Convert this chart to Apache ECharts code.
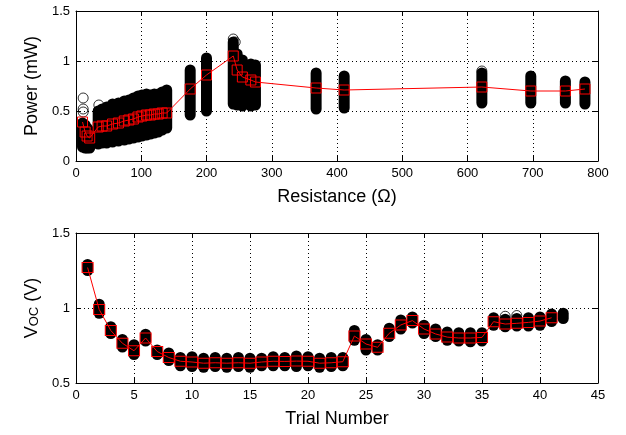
<!DOCTYPE html>
<html>
<head>
<meta charset="utf-8">
<script src="https://cdn.jsdelivr.net/npm/echarts@6/dist/echarts.min.js"></script>
<style>
  html, body { margin: 0; padding: 0; background: #fff; }
  #chart { width: 626px; height: 435px; }
</style>
</head>
<body>
<div id="chart"></div>
<script>
// top panel: power vs load resistance
var powerR = [10, 14, 17, 21, 34, 40, 47, 56, 65, 74, 81, 88, 95, 101, 108, 114, 120, 126, 132, 139,
  175, 200, 241, 247, 255, 268, 275, 368, 411, 622, 697, 750, 780];
var powerMean = [0.39, 0.29, 0.25, 0.23, 0.34, 0.35, 0.35, 0.37, 0.38, 0.40, 0.41, 0.42, 0.44, 0.45, 0.46, 0.46, 0.47, 0.47, 0.48, 0.48,
  0.72, 0.86, 1.05, 0.91, 0.84, 0.81, 0.79, 0.73, 0.71, 0.74, 0.70, 0.70, 0.72];
var powerLow = [0.14, 0.13, 0.13, 0.13, 0.17, 0.18, 0.18, 0.19, 0.20, 0.21, 0.22, 0.23, 0.24, 0.25, 0.26, 0.27, 0.28, 0.29, 0.31, 0.33,
  0.46, 0.50, 0.57, 0.56, 0.55, 0.55, 0.56, 0.52, 0.53, 0.58, 0.58, 0.58, 0.57];
var powerHigh = [0.38, 0.36, 0.33, 0.30, 0.50, 0.52, 0.54, 0.57, 0.58, 0.60, 0.61, 0.63, 0.65, 0.66, 0.67, 0.66, 0.67, 0.67, 0.69, 0.71,
  0.91, 1.03, 1.19, 1.07, 1.01, 0.97, 0.96, 0.88, 0.85, 0.88, 0.85, 0.80, 0.79];
var powerOutliers = [[11, 0.63], [11, 0.52], [11, 0.49], [35, 0.56], [241, 1.22], [244, 1.19], [622, 0.90]];

// bottom panel: open circuit voltage per trial
var trials = [1, 2, 3, 4, 5, 6, 7, 8, 9, 10, 11, 12, 13, 14, 15, 16, 17, 18, 19, 20, 21,
  22, 23, 24, 25, 26, 27, 28, 29, 30, 31, 32, 33, 34, 35, 36, 37, 38, 39, 40, 41, 42];
var vocMean = [1.27, 0.99, 0.85, 0.765, 0.715, 0.80, 0.71, 0.67, 0.645, 0.64, 0.632, 0.635, 0.632, 0.635, 0.632, 0.64, 0.645, 0.644, 0.646, 0.645, 0.632,
  0.635, 0.642, 0.813, 0.76, 0.738, 0.831, 0.887, 0.916, 0.86, 0.827, 0.806, 0.80, 0.80, 0.804, 0.909, 0.893, 0.898, 0.904, 0.913, 0.935, null];
var vocLow = [1.25, 0.965, 0.83, 0.74, 0.69, 0.78, 0.69, 0.65, 0.615, 0.61, 0.605, 0.61, 0.605, 0.61, 0.605, 0.615, 0.615, 0.615, 0.61, 0.615, 0.605,
  0.61, 0.615, 0.785, 0.72, 0.72, 0.81, 0.86, 0.90, 0.83, 0.81, 0.785, 0.78, 0.775, 0.78, 0.885, 0.875, 0.88, 0.88, 0.885, 0.91, 0.93];
var vocHigh = [1.29, 1.025, 0.875, 0.79, 0.755, 0.825, 0.72, 0.70, 0.67, 0.675, 0.665, 0.67, 0.665, 0.67, 0.665, 0.665, 0.675, 0.67, 0.68, 0.675, 0.665,
  0.67, 0.67, 0.85, 0.79, 0.755, 0.865, 0.92, 0.94, 0.885, 0.86, 0.84, 0.835, 0.835, 0.835, 0.935, 0.925, 0.93, 0.935, 0.94, 0.96, 0.965];
var vocOutliers = [[37, 0.945], [38, 0.95]];

var font = 'Arial, "Liberation Sans", sans-serif';

function zip3(x, lo, hi) {
  var res = [];
  for (var i = 0; i < x.length; i++) res.push([x[i], lo[i], hi[i]]);
  return res;
}
function zip2(x, y) {
  var res = [];
  for (var i = 0; i < x.length; i++) if (y[i] != null) res.push([x[i], y[i]]);
  return res;
}

// one cluster of overlapping circles -> a round capped stroke from low to high
function renderCluster(params, api) {
  var a = api.coord([api.value(0), api.value(1)]);
  var b = api.coord([api.value(0), api.value(2)]);
  return {
    type: 'line',
    shape: { x1: a[0], y1: a[1], x2: b[0], y2: b[1] },
    style: { stroke: '#000', lineWidth: 11, lineCap: 'round' }
  };
}

function xAxis(gridIndex, pos, min, max, step, name, gap) {
  return {
    type: 'value', gridIndex: gridIndex, position: pos, min: min, max: max, interval: step,
    name: name, nameLocation: 'middle', nameGap: gap,
    nameTextStyle: { color: '#000', fontSize: 18, fontFamily: font },
    axisLine: { show: true, onZero: false, lineStyle: { color: '#000', width: 1 } },
    axisTick: { show: true, inside: true, length: 5, lineStyle: { color: '#000' } },
    axisLabel: { show: pos === 'bottom', color: '#000', fontSize: 13, fontFamily: font, margin: 6 },
    splitLine: { show: pos === 'bottom', lineStyle: { color: '#000', type: [1, 3], width: 1 } }
  };
}
function yAxis(gridIndex, pos, min, max, step, name, gap) {
  return {
    type: 'value', gridIndex: gridIndex, position: pos, min: min, max: max, interval: step,
    name: name, nameLocation: 'middle', nameGap: gap,
    nameTextStyle: {
      color: '#000', fontSize: 18, fontFamily: font,
      rich: { sub: { fontSize: 13, fontFamily: font, color: '#000', verticalAlign: 'bottom' },
              n: { fontSize: 18, fontFamily: font, color: '#000' } }
    },
    axisLine: { show: true, onZero: false, lineStyle: { color: '#000', width: 1 } },
    axisTick: { show: true, inside: true, length: 5, lineStyle: { color: '#000' } },
    axisLabel: { show: pos === 'left', color: '#000', fontSize: 13, fontFamily: font, margin: 6 },
    splitLine: { show: pos === 'left', lineStyle: { color: '#000', type: [1, 3], width: 1 } }
  };
}

var chart = echarts.init(document.getElementById('chart'));
chart.setOption({
  animation: false,
  backgroundColor: '#fff',
  grid: [
    { left: 76, top: 11, width: 522, height: 150 },
    { left: 76, top: 233, width: 522, height: 150 }
  ],
  xAxis: [
    xAxis(0, 'bottom', 0, 800, 100, 'Resistance (\u03A9)', 27),
    xAxis(0, 'top', 0, 800, 100, '', 0),
    xAxis(1, 'bottom', 0, 45, 5, 'Trial Number', 27),
    xAxis(1, 'top', 0, 45, 5, '', 0)
  ],
  yAxis: [
    yAxis(0, 'left', 0, 1.5, 0.5, 'Power (mW)', 34),
    yAxis(0, 'right', 0, 1.5, 0.5, '', 0),
    yAxis(1, 'left', 0.5, 1.5, 0.5, '{n|V}{sub|OC}{n| (V)}', 34),
    yAxis(1, 'right', 0.5, 1.5, 0.5, '', 0)
  ],
  series: [
    {
      type: 'custom', xAxisIndex: 0, yAxisIndex: 0, renderItem: renderCluster,
      data: zip3(powerR, powerLow, powerHigh), clip: true, z: 2
    },
    {
      type: 'scatter', xAxisIndex: 0, yAxisIndex: 0, data: powerOutliers,
      symbol: 'circle', symbolSize: 10,
      itemStyle: { color: 'rgba(0,0,0,0)', borderColor: '#000', borderWidth: 1 }, z: 1
    },
    {
      type: 'line', xAxisIndex: 0, yAxisIndex: 0, data: zip2(powerR, powerMean),
      symbol: 'rect', symbolSize: 10, showAllSymbol: true,
      lineStyle: { color: '#ff0000', width: 1 },
      itemStyle: { color: 'rgba(0,0,0,0)', borderColor: '#ff0000', borderWidth: 1 }, z: 5
    },
    {
      type: 'custom', xAxisIndex: 2, yAxisIndex: 2, renderItem: renderCluster,
      data: zip3(trials, vocLow, vocHigh), clip: true, z: 2
    },
    {
      type: 'scatter', xAxisIndex: 2, yAxisIndex: 2, data: vocOutliers,
      symbol: 'circle', symbolSize: 10,
      itemStyle: { color: 'rgba(0,0,0,0)', borderColor: '#000', borderWidth: 1 }, z: 1
    },
    {
      type: 'line', xAxisIndex: 2, yAxisIndex: 2, data: zip2(trials, vocMean),
      symbol: 'rect', symbolSize: [11, 10], showAllSymbol: true,
      lineStyle: { color: '#ff0000', width: 1 },
      itemStyle: { color: 'rgba(0,0,0,0)', borderColor: '#ff0000', borderWidth: 1 }, z: 5
    }
  ]
});
</script>
</body>
</html>
